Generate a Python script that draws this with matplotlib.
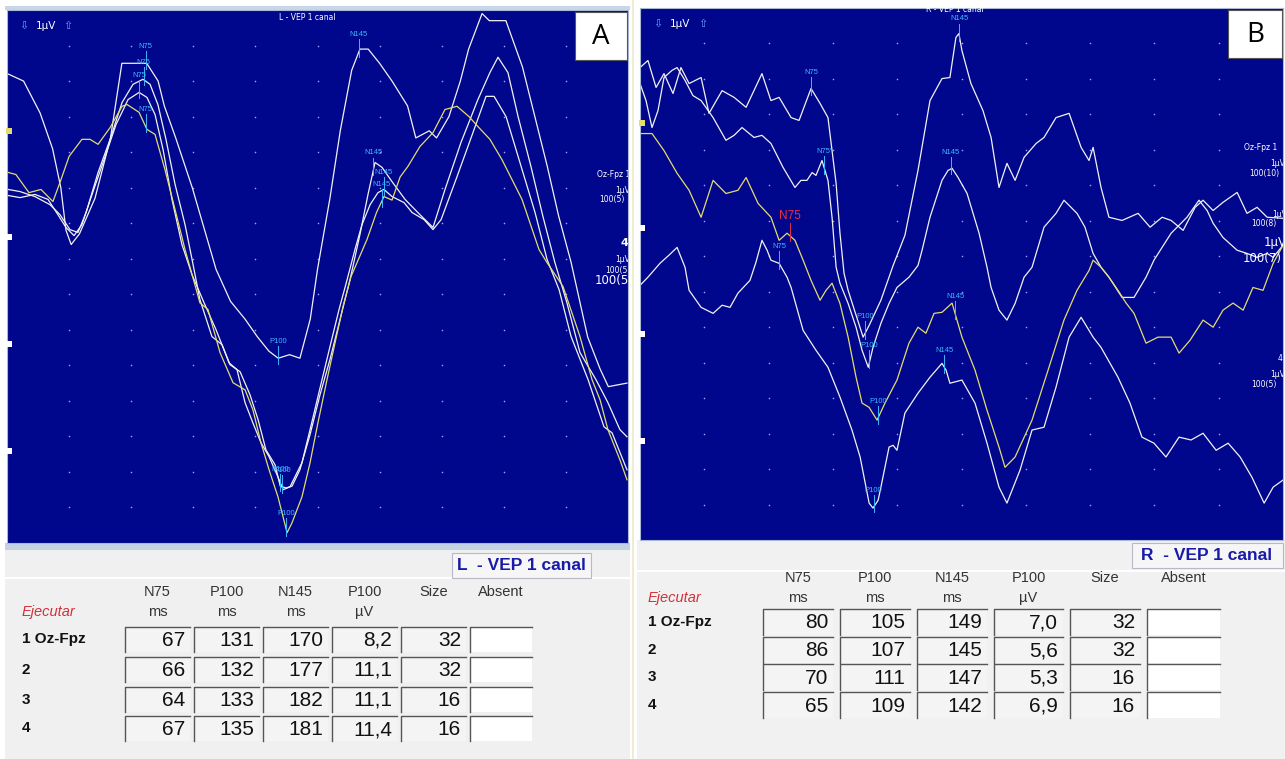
import numpy as np
import matplotlib
matplotlib.use('Agg')
import matplotlib.pyplot as plt
from matplotlib.patches import Rectangle

W, H = 1285, 759
NAVY = '#00078c'
WHITE = '#f2f2f2'
YELLOW = '#e4dc6e'
CYAN = '#3cb8ff'
NARROW = ['Liberation Sans Narrow', 'Liberation Sans', 'DejaVu Sans']

# ---- panel A (left eye) traces: time in ms, amplitude in uV (1 uV per grid row)
a1_ms = [0.5, 8, 16, 22, 26, 28.5, 31, 35, 42.5, 50, 55.5, 62, 67.5, 73, 76, 81.5, 89.5, 95, 101, 108,
         115, 121, 126.5, 131, 136.5, 141.5, 146.5, 150, 156, 161, 166.5, 170.5, 174.5, 180, 186, 193.5,
         197.5, 204, 207.5, 213.5, 219, 223, 229.5, 233, 241, 249, 255, 261, 266.5, 272.5, 280.5, 286.5,
         290.5, 299.5]
a1_uv = [13.2, 13.0, 12.1, 11.1, 10.0, 8.8, 8.4, 8.7, 9.7, 11.4, 13.5, 13.5, 13.5, 13.0, 12.3, 11.4, 10.0,
         8.9, 7.7, 6.8, 6.3, 5.8, 5.4, 5.2, 5.3, 5.2, 6.3, 7.7, 9.7, 11.6, 13.3, 13.9, 13.9, 13.5, 13.0,
         12.3, 11.4, 11.6, 11.4, 12.0, 13.0, 13.9, 14.9, 14.7, 14.7, 13.4, 12.0, 10.6, 9.2, 7.9, 5.8, 4.9,
         4.4, 4.5]

a2_ms = [0.5, 6.3, 13.5, 20.8, 25.6, 30.4, 34.3, 38.2, 44.0, 49.8, 55.6, 60.9, 65.7, 69.1, 72.9, 76.8,
         81.2, 86.0, 89.4, 93.2, 99.0, 103.9, 107.7, 112.6, 117.4, 121.3, 125.1, 129.5, 132.0, 134.8,
         137.7, 141.5, 146.4, 151.2, 156.0, 160.9, 165.7, 170.5, 174.4, 177.8, 181.2, 186.0, 192.3,
         199.5, 205.8, 211.6, 219.3, 227.5, 233.3, 237.2, 242.0, 246.9, 253.1, 258.9, 264.7, 270.5,
         276.8, 284.5, 290.3, 296.1, 299.5]
a2_uv = [9.95, 9.89, 9.75, 9.52, 9.24, 8.82, 8.74, 9.30, 10.43, 11.36, 12.40, 12.91, 13.05, 12.91, 12.34,
         11.36, 10.09, 8.96, 7.98, 6.85, 5.81, 5.58, 5.02, 4.82, 4.17, 3.47, 2.62, 2.20, 1.6, 1.55, 1.6,
         2.06, 3.05, 4.17, 5.16, 6.29, 7.41, 8.68, 9.81, 10.71, 10.57, 10.17, 9.67, 9.24, 8.88, 9.95,
         11.27, 12.48, 13.24, 13.67, 13.24, 12.0, 10.60, 9.19, 7.89, 6.76, 5.36, 4.60, 3.95, 3.19, 2.99]

a3_ms = [0.5, 6.3, 13.5, 19.8, 24.6, 28.5, 32.4, 36.2, 41.1, 46.9, 52.7, 58.5, 63.8, 67.6, 71.5, 75.4,
         79.7, 84.5, 89.4, 95.2, 101.0, 107.3, 111.1, 115.0, 118.8, 122.7, 126.6, 130.9, 133.4, 136.7,
         142.5, 146.4, 152.2, 156.5, 160.4, 164.3, 168.1, 171.5, 175.4, 179.2, 182.1, 186.0, 191.8,
         195.7, 201.5, 205.8, 209.7, 217.4, 225.1, 231.4, 235.3, 241.1, 246.9, 255.1, 260.9, 266.7,
         272.5, 280.7, 288.4, 292.3, 299.5]
a3_uv = [9.78, 9.72, 9.81, 9.67, 9.24, 8.88, 8.65, 8.96, 9.81, 10.79, 11.78, 12.48, 12.68, 12.54, 12.06,
         11.07, 9.67, 8.40, 7.55, 6.76, 6.00, 5.07, 4.88, 3.95, 3.38, 2.82, 2.43, 1.86, 1.50, 1.58, 2.26,
         3.19, 4.60, 5.64, 6.57, 7.41, 8.26, 8.96, 9.52, 9.86, 9.95, 9.75, 9.58, 9.30, 9.10, 8.82, 9.10,
         10.31, 11.55, 12.57, 12.57, 12.0, 10.88, 9.30, 7.98, 7.13, 5.81, 4.60, 3.27, 3.10, 2.06]

a4_ms = [0.5, 4.3, 10.6, 16.4, 22.2, 26.1, 30.0, 36.2, 40.1, 44.0, 49.8, 55.6, 58.0, 63.8, 67.6, 71.5,
         76.3, 81.2, 86.0, 93.2, 97.1, 102.9, 109.2, 115.0, 118.8, 122.7, 126.6, 130.9, 135.3, 137.7,
         142.5, 146.4, 150.2, 154.6, 158.5, 162.3, 166.2, 173.9, 178.5, 182.1, 186.0, 189.9, 193.7,
         199.5, 205.8, 211.6, 217.4, 223.2, 227.5, 233.3, 239.1, 248.8, 257.0, 260.9, 268.6, 276.8,
         282.6, 286.5, 290.3, 296.1, 299.5]
a4_uv = [10.43, 10.37, 9.86, 9.95, 9.61, 10.23, 10.88, 11.36, 11.36, 11.22, 11.69, 12.29, 12.34, 12.12,
         11.64, 11.50, 10.51, 9.38, 8.26, 6.76, 6.57, 5.36, 4.51, 4.31, 3.75, 2.82, 2.06, 1.30, 0.29,
         0.57, 1.30, 2.26, 3.38, 4.60, 5.64, 6.65, 7.50, 8.54, 9.30, 9.75, 9.65, 10.30, 10.60, 11.16,
         11.55, 12.20, 12.29, 12.0, 11.72, 11.36, 10.79, 9.67, 8.26, 7.89, 7.22, 5.81, 4.60, 4.03, 3.19,
         2.34, 1.78]

# ---- panel B (right eye) traces
b1_ms = [0, 3.7, 7.5, 11.2, 15.4, 19.1, 22.9, 28.5, 32.2, 38.3, 43.9, 49.5, 56.9, 61.1, 64.9, 70.5, 74.2,
         79.8, 84.0, 87.7, 89.6, 91.5, 93.3, 95.2, 97.1, 100.8, 104.1, 106.9, 112.4, 118.1, 123.6, 129.7,
         135.3, 140.9, 144.6, 147.4, 148.8, 150.2, 154.4, 160.0, 163.8, 167.5, 171.2, 175.0, 179.2, 184.8,
         188.5, 194.1, 200.2, 205.8, 209.5, 211.4, 215.1, 218.8, 224.9, 232.4, 238.0, 243.6, 247.8, 253.4,
         259.0, 262.7, 267.4, 272.0, 278.6, 283.2, 287.9, 292.6, 300]
b1_uv = [13.32, 13.52, 12.76, 13.15, 12.59, 13.32, 12.87, 13.04, 12.03, 12.67, 12.48, 12.20, 13.15, 12.39,
         12.48, 11.91, 11.83, 12.73, 12.31, 11.91, 10.98, 10.05, 8.65, 7.52, 7.04, 6.34, 5.72, 6.05, 6.76,
         7.74, 8.59, 10.42, 12.39, 13.01, 13.04, 14.17, 14.28, 13.80, 12.87, 12.11, 11.35, 9.94, 10.62,
         10.14, 10.79, 11.18, 11.35, 11.91, 12.03, 11.07, 10.70, 11.07, 9.94, 9.10, 9.01, 9.21, 8.82, 9.10,
         9.01, 8.73, 9.38, 9.58, 9.29, 9.52, 9.80, 9.21, 9.38, 9.10, 9.07]

b2_ms = [0, 2.8, 5.6, 8.4, 11.2, 14.9, 17.3, 21.0, 24.7, 28.5, 34.1, 40.1, 43.9, 47.6, 53.2, 56.9, 61.1,
         66.7, 72.3, 75.1, 77.9, 80.3, 82.1, 84.9, 87.7, 89.6, 91.5, 93.3, 97.1, 100.8, 103.6, 106.5,
         108.7, 112.4, 116.2, 119.9, 125.5, 129.7, 131.6, 135.3, 140.9, 143.7, 145.6, 148.4, 152.6, 158.2,
         161.9, 163.8, 167.5, 171.2, 175.0, 179.2, 182.9, 188.5, 194.1, 197.8, 203.9, 207.6, 211.4, 215.1,
         218.8, 224.9, 230.5, 236.1, 239.8, 247.8, 255.2, 260.8, 264.6, 267.4, 272.0, 278.6, 283.2, 287.9,
         292.6, 295.4, 300]
b2_uv = [12.87, 12.39, 11.63, 12.11, 13.04, 13.24, 13.32, 12.96, 12.53, 12.39, 11.91, 11.27, 11.41, 11.63,
         11.35, 11.41, 11.18, 10.51, 9.94, 10.14, 10.14, 10.36, 10.28, 10.70, 10.14, 9.10, 7.69, 7.24, 6.67,
         6.00, 5.35, 4.87, 5.43, 6.11, 6.67, 7.12, 7.41, 7.74, 8.17, 9.10, 10.14, 10.42, 10.48, 10.22, 9.77,
         8.65, 7.69, 7.12, 6.48, 6.20, 6.67, 7.41, 7.69, 8.82, 9.21, 9.58, 9.21, 8.82, 8.08, 7.69, 7.41,
         6.84, 6.84, 7.41, 7.89, 8.65, 9.10, 9.58, 9.29, 8.93, 8.53, 8.17, 8.08, 7.97, 8.08, 7.97, 8.31]

b3_ms = [0, 5.6, 11.2, 17.3, 22.9, 28.5, 34.1, 40.1, 45.7, 49.5, 55.1, 61.1, 64.9, 68.6, 72.3, 76.1, 79.8,
         84.0, 86.8, 89.6, 93.3, 97.1, 100.8, 103.6, 106.9, 110.6, 114.3, 119.9, 125.5, 129.7, 133.4,
         137.2, 140.9, 145.6, 150.2, 156.3, 161.9, 167.5, 170.3, 175.0, 182.9, 190.4, 197.8, 203.9, 209.5,
         211.4, 215.1, 218.8, 223.0, 226.8, 230.5, 236.1, 241.7, 247.8, 251.5, 256.6, 262.7, 267.4, 272.0,
         276.7, 281.4, 286.0, 290.7, 295.4, 300]
b3_uv = [11.46, 11.46, 10.98, 10.34, 9.86, 9.10, 10.14, 9.77, 9.86, 10.22, 9.49, 9.10, 8.45, 8.65, 8.45,
         7.89, 7.32, 6.76, 7.04, 7.24, 6.67, 5.72, 4.59, 3.86, 3.74, 3.38, 3.86, 4.51, 5.55, 6.00, 5.83,
         6.39, 6.42, 6.68, 5.72, 4.79, 3.66, 2.62, 2.05, 2.34, 3.38, 4.79, 6.20, 7.04, 7.60, 7.89, 7.69,
         7.41, 7.04, 6.68, 6.39, 5.55, 5.72, 5.72, 5.27, 5.63, 6.20, 6.00, 6.48, 6.68, 6.48, 7.12, 7.04,
         7.80, 8.31]

b4_ms = [0, 3.7, 9.3, 13.5, 17.3, 21.0, 22.9, 28.5, 34.1, 38.3, 42.0, 45.7, 51.3, 54.1, 56.9, 59.3, 61.1,
         64.9, 68.6, 70.5, 76.1, 82.1, 87.7, 93.3, 98.9, 102.7, 106.9, 108.7, 111.1, 112.4, 116.2, 118.1,
         119.9, 123.6, 129.7, 135.3, 140.9, 142.8, 144.6, 150.2, 156.3, 161.9, 167.5, 171.2, 177.3, 182.9,
         188.5, 194.1, 200.2, 205.8, 211.4, 215.1, 223.0, 228.6, 234.2, 239.8, 245.4, 251.5, 257.1, 262.7,
         268.8, 274.4, 280.0, 285.5, 291.2, 295.4, 300]
b4_uv = [7.18, 7.41, 7.80, 8.03, 8.25, 7.69, 7.04, 6.56, 6.39, 6.62, 6.56, 6.96, 7.32, 7.83, 8.45, 8.17,
         7.89, 7.80, 7.41, 7.12, 5.91, 5.35, 4.87, 4.03, 3.10, 2.34, 1.04, 0.90, 1.12, 1.49, 2.62, 2.67,
         2.53, 3.58, 4.14, 4.59, 4.98, 4.79, 4.42, 4.51, 3.86, 2.73, 1.49, 1.04, 1.97, 3.10, 3.18, 4.31,
         5.72, 6.28, 5.72, 5.43, 4.59, 3.86, 2.90, 2.73, 2.34, 2.90, 2.82, 3.01, 2.53, 2.73, 2.34, 1.77,
         1.04, 1.49, 1.69]

# ---- measurement tables
row_names = ['1 Oz-Fpz', '2', '3', '4']
col_top = ['N75', 'P100', 'N145', 'P100', 'Size', 'Absent']
col_unit = ['ms', 'ms', 'ms', 'µV', '', '']

a_n75 = [67, 66, 64, 67]
a_p100 = [131, 132, 133, 135]
a_n145 = [170, 177, 182, 181]
a_amp = ['8,2', '11,1', '11,1', '11,4']
a_size = [32, 32, 16, 16]

b_n75 = [80, 86, 70, 65]
b_p100 = [105, 107, 111, 109]
b_n145 = [149, 145, 147, 142]
b_amp = ['7,0', '5,6', '5,3', '6,9']
b_size = [32, 32, 16, 16]

a_marks = [11.6, 8.6, 5.6, 2.6]
b_marks = [11.75, 8.8, 5.8, 2.8]


def PixelAxes(fig, x0, y0, x1, y1, z):
    return fig.add_axes([x0 / W, 1 - y1 / H, (x1 - x0) / W, (y1 - y0) / H], zorder=z)


def DrawPanel(ax, traces, colours, n75, p100, n145, marks, n75_names, red_row=None):
    ax.set_facecolor(NAVY)
    ax.set_xlim(0, 300)
    ax.set_ylim(0, 15)
    ax.set_xticks([])
    ax.set_yticks([])
    for s in ax.spines.values():
        s.set_color('#aab8d8')
        s.set_linewidth(0.8)

    gx, gy = np.meshgrid(np.arange(30, 300, 30), np.arange(1, 15))
    ax.scatter(gx.ravel(), gy.ravel(), s=1.3, c='#9aa6ff', linewidths=0)

    for (t, v), c in zip(traces, colours):
        ax.plot(t, v, color=c, lw=0.9)

    for i, (t, v) in enumerate(traces):
        for lat, name in [(n75[i], n75_names[i]), (p100[i], 'P100'), (n145[i], 'N145')]:
            y = np.interp(lat, t, v)
            col = CYAN
            size = 5.5
            if red_row == i and name.startswith('N75'):
                col = '#e8304a'
                size = 8.5
            ax.plot([lat, lat], [y - 0.15, y + 0.35], color=col, lw=0.7)
            ax.text(lat, y + 0.38, name, color=col, fontsize=size, ha='center', va='bottom',
                    family=NARROW)

    mcols = [YELLOW, 'white', 'white', 'white']
    for m, c in zip(marks, mcols):
        ax.scatter([0.8], [m], marker='s', s=14, c=c, clip_on=False, zorder=5, linewidths=0)

    ax.text(6, 14.55, '⇩', color='#6aa0ff', fontsize=8, va='center')
    ax.text(14, 14.55, '1µV', color='white', fontsize=7.5, va='center')
    ax.text(27, 14.55, '⇧', color='#6aa0ff', fontsize=8, va='center')


def DrawTable(ax, lefts, widths, tops, rh, head_y, lx, ejec_y, n75, p100, n145, amp, size):
    ax.text(lx, ejec_y, 'Ejecutar', color='#d0303a', fontsize=10.5, style='italic',
            ha='left', va='center', family=NARROW)
    for j in range(6):
        cx = lefts[j] + widths[j] / 2
        ax.text(cx, head_y[0], col_top[j], fontsize=10.5, ha='center', va='center',
                color='#333333', family=NARROW)
        ax.text(cx, head_y[1], col_unit[j], fontsize=10.5, ha='center', va='center',
                color='#333333', family=NARROW)
    for i in range(4):
        vals = [str(n75[i]), str(p100[i]), str(n145[i]), amp[i], str(size[i]), '']
        top = tops[i]
        ax.text(lx, top + rh / 2, row_names[i], fontsize=11, weight='bold', ha='left',
                va='center', color='#111111', family=NARROW)
        for j in range(6):
            face = 'white' if j == 5 else '#f4f4f4'
            ax.add_patch(Rectangle((lefts[j], top), widths[j], rh, facecolor=face,
                                   edgecolor='none'))
            ax.plot([lefts[j], lefts[j], lefts[j] + widths[j]], [top + rh, top, top],
                    color='#555555', lw=1.0)
            ax.text(lefts[j] + widths[j] - 5, top + rh / 2 + 1, vals[j], fontsize=15,
                    ha='right', va='center', color='#111111', family=NARROW)


fig = plt.figure(figsize=(W / 100, H / 100), dpi=100)
fig.patch.set_facecolor('white')

bg = PixelAxes(fig, 0, 0, W, H, 0)
bg.set_xlim(0, W)
bg.set_ylim(H, 0)
bg.axis('off')
bg.add_patch(Rectangle((5, 543), 625, 216, facecolor='#f0f0f0', edgecolor='none'))
bg.add_patch(Rectangle((5, 543), 625, 7, facecolor='#c4d2e4', edgecolor='none'))
bg.add_patch(Rectangle((637, 540), 648, 219, facecolor='#f1f1f1', edgecolor='none'))
bg.add_patch(Rectangle((5, 6), 625, 4, facecolor='#c8d6ea', edgecolor='none'))
bg.plot([5, 630], [578, 578], color='white', lw=1.5)
bg.plot([637, 1285], [571, 571], color='white', lw=1.5)
bg.plot([633, 633], [0, 759], color='#eee8c8', lw=1.2)

axA = PixelAxes(fig, 7, 10, 628, 543, 1)
DrawPanel(axA, [(a1_ms, a1_uv), (a2_ms, a2_uv), (a3_ms, a3_uv), (a4_ms, a4_uv)],
          [WHITE, WHITE, WHITE, YELLOW], a_n75, a_p100, a_n145, a_marks,
          ['N75', 'N75', 'N75', 'N75'])
axA.text(145, 14.8, 'L - VEP 1 canal', color='white', fontsize=5.5, ha='center', va='center')
axA.text(285, 10.3, 'Oz-Fpz 1', color='white', fontsize=5.5, clip_on=True)
axA.text(294, 9.85, '1µV', color='white', fontsize=5.5, clip_on=True)
axA.text(286, 9.6, '100(5)', color='white', fontsize=5.5, clip_on=True)
axA.text(296.5, 8.35, '4', color='white', fontsize=8, weight='bold', clip_on=True)
axA.text(294, 7.9, '1µV', color='white', fontsize=5.5, clip_on=True)
axA.text(289, 7.6, '100(5)', color='white', fontsize=5.5, clip_on=True)
axA.text(284, 7.3, '100(5)', color='white', fontsize=8.5, clip_on=True)

axB = PixelAxes(fig, 640, 8, 1283, 540, 1)
DrawPanel(axB, [(b1_ms, b1_uv), (b2_ms, b2_uv), (b3_ms, b3_uv), (b4_ms, b4_uv)],
          [WHITE, WHITE, YELLOW, WHITE], b_n75, b_p100, b_n145, b_marks,
          ['N75', "N75'", 'N75', 'N75'], red_row=2)
axB.text(147, 14.95, 'R - VEP 1 canal', color='white', fontsize=5.5, ha='center', va='center')
axB.text(282, 11.0, 'Oz-Fpz 1', color='white', fontsize=5.5, clip_on=True)
axB.text(294, 10.55, '1µV', color='white', fontsize=5.5, clip_on=True)
axB.text(284, 10.25, '100(10)', color='white', fontsize=5.5, clip_on=True)
axB.text(295, 9.1, '1µV', color='white', fontsize=5.5, clip_on=True)
axB.text(285, 8.85, '100(8)', color='white', fontsize=5.5, clip_on=True)
axB.text(291, 8.3, '1µV', color='white', fontsize=8.5, clip_on=True)
axB.text(281, 7.85, '100(7)', color='white', fontsize=8.5, clip_on=True)
axB.text(297.5, 5.05, '4', color='white', fontsize=5.5, clip_on=True)
axB.text(294, 4.6, '1µV', color='white', fontsize=5.5, clip_on=True)
axB.text(285, 4.3, '100(5)', color='white', fontsize=5.5, clip_on=True)

ov = PixelAxes(fig, 0, 0, W, H, 5)
ov.set_xlim(0, W)
ov.set_ylim(H, 0)
ov.axis('off')
ov.patch.set_alpha(0)

ov.add_patch(Rectangle((575, 12), 52, 48, facecolor='white', edgecolor='#555555', lw=0.8))
ov.text(601, 37, 'A', fontsize=20, ha='center', va='center', family=['Open Sans', 'DejaVu Sans'])
ov.add_patch(Rectangle((1228, 10), 54, 48, facecolor='white', edgecolor='#555555', lw=0.8))
ov.text(1255, 35, 'B', fontsize=20, ha='center', va='center', family=['Open Sans', 'DejaVu Sans'])

ov.add_patch(Rectangle((452, 553), 139, 25, facecolor='#f6f6f6', edgecolor='#b8b8c8', lw=0.8))
ov.text(521, 566, 'L  - VEP 1 canal', fontsize=12.5, weight='bold', color='#1a1aa8',
        ha='center', va='center', family=['Liberation Sans', 'DejaVu Sans'])
ov.add_patch(Rectangle((1132, 543), 151, 25, facecolor='#f6f6f6', edgecolor='#b8b8c8', lw=0.8))
ov.text(1207, 555, 'R  - VEP 1 canal', fontsize=12.5, weight='bold', color='#1a1aa8',
        ha='center', va='center', family=['Liberation Sans', 'DejaVu Sans'])

DrawTable(ov, [125, 194, 263, 332, 401, 470], [65, 65, 65, 65, 65, 62], [627, 657, 687, 716], 25,
          [592, 612], 22, 612, a_n75, a_p100, a_n145, a_amp, a_size)
DrawTable(ov, [763, 840, 917, 994, 1070, 1147], [70, 70, 70, 69, 70, 73], [609, 637, 664, 692], 26,
          [578, 598], 648, 598, b_n75, b_p100, b_n145, b_amp, b_size)

fig.savefig('out.png', dpi=100)
